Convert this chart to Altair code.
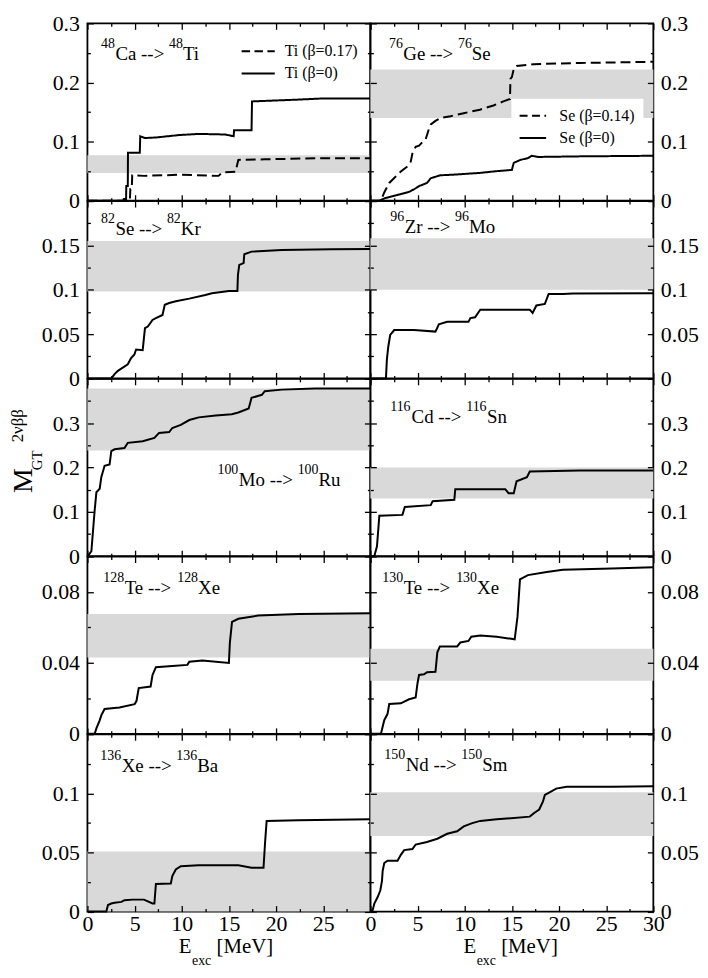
import altair as alt
import pandas as pd

FONT = "Liberation Serif"
W, H = 285, 178.6

# ---------------- data ----------------
# 48Ca -> 48Ti
CA_E_DEF = [0, 4.5, 4.55, 4.7, 4.75, 6.0, 10.0, 13.9, 14.3, 15.7, 16.0, 18.8, 25, 30]
CA_M_DEF = [0, 0, 0.02, 0.02, 0.043, 0.042, 0.044, 0.042, 0.048, 0.049, 0.069, 0.070, 0.072, 0.072]
CA_E_SPH = [0, 3.8, 3.85, 4.1, 4.12, 4.28, 4.3, 5.55, 5.6, 6.1, 7.3, 9.7, 11.8, 14.6, 15.5, 15.55, 17.4, 17.45, 22.3, 25, 30]
CA_M_SPH = [0, 0, 0.003, 0.003, 0.025, 0.025, 0.081, 0.081, 0.109, 0.106, 0.107, 0.111, 0.113, 0.112, 0.109, 0.119, 0.119, 0.168, 0.171, 0.173, 0.173]
# 76Ge -> 76Se
GE_E_DEF = [0, 1.1, 1.47, 2.0, 2.53, 3.23, 3.93, 4.28, 4.46, 4.8, 5.16, 5.5, 5.86, 6.2, 6.4, 6.9, 7.44, 8.5, 9.9, 11.6, 13.05, 14.1, 14.8, 14.85, 15.0, 15.2, 15.5, 17.3, 22.2, 30]
GE_M_DEF = [0, 0, 0.014, 0.030, 0.0385, 0.0495, 0.058, 0.066, 0.080, 0.091, 0.093, 0.099, 0.104, 0.121, 0.129, 0.135, 0.140, 0.143, 0.148, 0.154, 0.161, 0.168, 0.172, 0.206, 0.209, 0.223, 0.228, 0.231, 0.233, 0.235]
GE_E_SPH = [0, 0.95, 1.5, 2.2, 3.2, 4.1, 4.6, 5.2, 6.0, 6.4, 7.4, 8.8, 11.6, 13.4, 15.0, 15.2, 15.9, 16.7, 17.1, 17.8, 22.2, 30]
GE_M_SPH = [0, 0, 0.004, 0.007, 0.011, 0.015, 0.019, 0.025, 0.030, 0.038, 0.043, 0.044, 0.047, 0.050, 0.052, 0.064, 0.069, 0.072, 0.076, 0.074, 0.075, 0.076]
# 82Se -> 82Kr
SE_E = [0, 2.53, 2.88, 3.23, 3.75, 4.28, 4.63, 4.98, 5.16, 5.86, 6.1, 6.4, 6.9, 7.26, 7.96, 8.2, 8.67, 9.37, 10.8, 12.5, 13.2, 15.0, 15.9, 15.96, 16.1, 16.56, 16.63, 17.4, 20.6, 25.9, 30]
SE_M = [0, 0, 0.0048, 0.0085, 0.0122, 0.016, 0.023, 0.027, 0.0326, 0.0319, 0.0567, 0.0585, 0.066, 0.068, 0.0715, 0.083, 0.085, 0.087, 0.090, 0.094, 0.096, 0.0985, 0.0985, 0.117, 0.128, 0.130, 0.140, 0.143, 0.1448, 0.1456, 0.146]
# 96Zr -> 96Mo
ZR_E = [0, 1.65, 1.75, 1.9, 2.1, 2.53, 4.63, 6.9, 7.26, 8.14, 10.4, 10.6, 11.1, 11.65, 16.9, 17.2, 17.6, 18.5, 18.9, 20.4, 21.5, 30]
ZR_M = [0, 0, 0.0214, 0.036, 0.049, 0.0546, 0.0546, 0.0528, 0.061, 0.0638, 0.0638, 0.068, 0.069, 0.0775, 0.0775, 0.0738, 0.0823, 0.084, 0.0952, 0.0952, 0.0959, 0.096]
# 100Mo -> 100Ru
MO_E = [0, 0.18, 0.42, 0.6, 0.77, 0.95, 1.3, 1.47, 1.82, 2.35, 2.53, 2.88, 3.93, 4.28, 5.86, 7.1, 7.6, 8.67, 9.0, 9.9, 10.8, 11.8, 13.6, 15.3, 16.0, 17.1, 17.4, 18.5, 18.8, 20.6, 24.1, 30]
MO_M = [0, 0.004, 0.011, 0.059, 0.104, 0.144, 0.152, 0.178, 0.204, 0.207, 0.237, 0.241, 0.244, 0.2556, 0.259, 0.2667, 0.278, 0.28, 0.289, 0.296, 0.307, 0.313, 0.317, 0.32, 0.324, 0.333, 0.357, 0.364, 0.372, 0.3756, 0.378, 0.378]
# 116Cd -> 116Sn
CD_E = [0, 0.42, 0.7, 0.95, 3.4, 3.65, 6.4, 6.6, 8.9, 9.0, 14.3, 14.65, 15.2, 15.5, 16.6, 16.9, 22.2, 30]
CD_M = [0, 0, 0.022, 0.091, 0.093, 0.111, 0.115, 0.124, 0.127, 0.151, 0.151, 0.142, 0.142, 0.169, 0.178, 0.191, 0.193, 0.193]
# 128Te -> 128Xe
TE128_E = [0, 0.77, 0.95, 1.3, 1.47, 1.82, 3.4, 5.0, 5.2, 5.44, 6.7, 6.9, 7.26, 9.0, 10.6, 10.8, 12.2, 15.0, 15.1, 15.33, 16.0, 18.1, 22.4, 30]
TE128_M = [0, 0, 0.0031, 0.0076, 0.0104, 0.014, 0.0149, 0.0167, 0.0185, 0.0258, 0.0267, 0.0331, 0.0376, 0.0382, 0.0389, 0.0407, 0.0413, 0.040, 0.0513, 0.0631, 0.0649, 0.0667, 0.0676, 0.068]
# 130Te -> 130Xe
TE130_E = [0, 1.12, 1.3, 1.47, 1.82, 2.0, 3.23, 4.1, 4.8, 5.0, 5.16, 5.68, 6.0, 6.9, 7.1, 7.37, 9.2, 9.54, 10.4, 10.7, 11.65, 13.4, 15.3, 15.6, 15.86, 16.7, 18.7, 20.4, 25.6, 30]
TE130_M = [0, 0, 0.004, 0.0077, 0.0113, 0.0168, 0.0172, 0.0195, 0.0205, 0.0287, 0.0332, 0.0336, 0.0347, 0.035, 0.046, 0.0493, 0.0493, 0.0515, 0.0524, 0.0548, 0.0555, 0.0548, 0.0533, 0.0661, 0.0871, 0.0895, 0.0913, 0.0926, 0.0932, 0.0939]
# 136Xe -> 136Ba
XE_E = [0, 2.0, 2.18, 2.53, 2.88, 3.6, 3.93, 4.8, 6.0, 6.9, 7.1, 7.26, 8.84, 9.0, 9.37, 9.9, 11.8, 16.0, 17.4, 18.67, 18.84, 19.0, 22.35, 30]
XE_M = [0, 0, 0.0055, 0.0068, 0.0074, 0.0082, 0.0096, 0.0101, 0.0101, 0.0068, 0.0068, 0.0233, 0.0238, 0.0301, 0.0356, 0.0384, 0.0392, 0.0392, 0.037, 0.037, 0.0589, 0.0767, 0.0773, 0.078]
# 150Nd -> 150Sm
ND_E = [0, 0.25, 0.42, 0.77, 1.05, 1.23, 1.3, 1.47, 1.82, 2.88, 3.23, 3.58, 4.46, 4.8, 6.0, 7.1, 8.14, 9.2, 9.9, 10.8, 11.65, 13.4, 16.9, 17.4, 17.9, 18.3, 18.5, 19.0, 19.7, 20.8, 25.7, 30]
ND_M = [0, 0.0014, 0.0068, 0.0123, 0.0178, 0.026, 0.0342, 0.0411, 0.043, 0.043, 0.048, 0.052, 0.0529, 0.0567, 0.0589, 0.0616, 0.0658, 0.0679, 0.072, 0.0748, 0.0767, 0.078, 0.0803, 0.0836, 0.0863, 0.0932, 0.0986, 0.1008, 0.104, 0.1055, 0.1055, 0.106]

# experimental bands (low, high), panel order left-right, top-bottom
BAND_LO = [0.047, 0.140, 0.098, 0.100, 0.238, 0.130, 0.043, 0.030, 0.0, 0.064]
BAND_HI = [0.077, 0.222, 0.155, 0.158, 0.378, 0.200, 0.0676, 0.048, 0.0507, 0.101]

# panel titles: (mass, parent, mass, daughter)
TITLES = [("48", "Ca --> ", "48", "Ti"), ("76", "Ge --> ", "76", "Se"),
          ("82", "Se --> ", "82", "Kr"), ("96", "Zr --> ", "96", "Mo"),
          ("100", "Mo --> ", "100", "Ru"), ("116", "Cd --> ", "116", "Sn"),
          ("128", "Te --> ", "128", "Xe"), ("130", "Te --> ", "130", "Xe"),
          ("136", "Xe --> ", "136", "Ba"), ("150", "Nd --> ", "150", "Sm")]
LEG_TI = ["Ti (β=0.17)", "Ti (β=0)"]
LEG_SE = ["Se (β=0.14)", "Se (β=0)"]

# axes per row
Y_MAX = [0.3, 0.2, 0.4, 0.1, 0.15]
Y_MAJOR = [[0, 0.1, 0.2, 0.3], [0, 0.05, 0.1, 0.15], [0, 0.1, 0.2, 0.3], [0, 0.04, 0.08], [0, 0.05, 0.1]]
Y_MINOR = [[0.05, 0.15, 0.25], [0.025, 0.075, 0.125, 0.175], [0.05, 0.15, 0.25, 0.35], [0.02, 0.06], [0.025, 0.075, 0.125]]
X_MAJOR_L = [0, 5, 10, 15, 20, 25]
X_MAJOR_R = [0, 5, 10, 15, 20, 25, 30]
X_MINOR = [2.5, 7.5, 12.5, 17.5, 22.5, 27.5]

# ---------------- helpers ----------------
TW = {' ': 250, '-': 333, '>': 564, '[': 333, ']': 333, 'a': 444, 'b': 500, 'c': 444, 'd': 500,
      'e': 444, 'i': 278, 'm': 778, 'n': 500, 'o': 500, 'r': 333, 'u': 500, 'x': 500,
      'B': 667, 'C': 667, 'E': 611, 'G': 722, 'K': 722, 'M': 889, 'N': 722, 'R': 667,
      'S': 556, 'T': 611, 'V': 722, 'X': 722, 'Z': 611}


def tw(s, size):
    return sum(TW.get(c, 500) for c in s) * size / 1000.0


def txt(s, x, y, size, angle=0, baseline="alphabetic"):
    return alt.Chart(pd.DataFrame({"t": [s]})).mark_text(
        font=FONT, fontSize=size, align="left", baseline=baseline, color="black", angle=angle
    ).encode(x=alt.value(x), y=alt.value(y), text="t:N")


def ax(orient, values, size, show=False):
    """Inward ticks: axis moved inside by its tick length, ticks point back to the frame."""
    kw = dict(orient=orient, values=list(values), title=None, grid=False, domain=False,
              ticks=True, tickSize=size, offset=-size, tickColor="black", tickWidth=1.3,
              labels=show, zindex=1)
    if show:
        pad = {"left": 8, "right": 7, "bottom": 2, "top": 2}[orient]
        kw.update(format="~g", labelFont=FONT, labelFontSize=22, labelColor="black",
                  labelPadding=pad, labelOverlap=False, labelFlush=False)
    return alt.Axis(**kw)


def lines_df(pairs):
    frames = [pd.DataFrame({"E": e, "M": m, "series": name}) for e, m, name in pairs]
    return pd.concat(frames, ignore_index=True)


TITLE_POS = [(13.7, 37), (18.7, 37), (13.7, 34), (20, 32), (131, 108),
             (20, 45), (16, 38), (12, 38), (13, 38), (14, 37)]


def panel(idx, pairs, dash_domain=None, dash_range=None, under=(), over=()):
    row, col = divmod(idx, 2)
    xs = alt.Scale(domain=[0, 30], nice=False, zero=False)
    ys = alt.Scale(domain=[0, Y_MAX[row]], nice=False, zero=False)
    df = lines_df(pairs)
    side = "left" if col == 0 else "right"
    other = "right" if col == 0 else "left"
    xmaj = X_MAJOR_L if col == 0 else X_MAJOR_R

    band = alt.Chart(pd.DataFrame({"lo": [BAND_LO[idx]], "hi": [BAND_HI[idx]]})).mark_rect(
        color="#d9d9d9").encode(
        x=alt.value(0), x2=alt.value(W),
        y=alt.Y("lo:Q", scale=ys, axis=None), y2="hi:Q")

    enc = dict(
        x=alt.X("E:Q", scale=xs, axis=ax("bottom", xmaj, 6, row == 4)),
        y=alt.Y("M:Q", scale=ys, axis=ax(side, Y_MAJOR[row], 6, True)),
        detail="series:N")
    if dash_domain:
        enc["strokeDash"] = alt.StrokeDash("series:N", scale=alt.Scale(domain=dash_domain, range=dash_range),
                                           legend=None)
    main = alt.Chart(df).mark_line(color="black", strokeWidth=2).encode(**enc)

    def ghost(xo, xv, xsz, yo, yv, ysz):
        return alt.Chart(df).mark_line(strokeOpacity=0).encode(
            x=alt.X("E:Q", scale=xs, axis=ax(xo, xv, xsz)),
            y=alt.Y("M:Q", scale=ys, axis=ax(yo, yv, ysz)),
            detail="series:N")

    g1 = ghost("bottom", X_MINOR, 3, side, Y_MINOR[row], 3)
    g2 = ghost("top", X_MAJOR_R, 6, other, Y_MAJOR[row], 6)
    g3 = ghost("top", X_MINOR, 3, other, Y_MINOR[row], 3)

    a, p, b, d = TITLES[idx]
    x0, yb = TITLE_POS[idx]
    s_sup, s_main = 14, 19
    x1 = x0 + tw(a, s_sup) + 0.5
    x2 = x1 + tw(p, s_main)
    x3 = x2 + tw(b, s_sup)
    texts = [txt(a, x0, yb - 12.4, s_sup), txt(p, x1, yb, s_main),
             txt(b, x2, yb - 12.4, s_sup), txt(d, x3, yb, s_main)]

    layers = [band] + list(under) + [main, g1, g2, g3] + texts + list(over)
    return alt.layer(*layers).resolve_axis(x="independent", y="independent").properties(width=W, height=H)


def legend(labels, x_sym, x_lab, y_rows, length, dash):
    out = []
    for lab, y, dsh in zip(labels, y_rows, [dash, [1, 0]]):
        out.append(alt.Chart(pd.DataFrame({"t": [lab]})).mark_rule(
            color="black", strokeWidth=2, strokeDash=dsh).encode(
            x=alt.value(x_sym), x2=alt.value(x_sym + length), y=alt.value(y)))
        out.append(txt(lab, x_lab, y, 16, baseline="middle"))
    return out


box = alt.Chart(pd.DataFrame({"t": ["box"]})).mark_rect(color="white").encode(
    x=alt.value(142), x2=alt.value(275), y=alt.value(76), y2=alt.value(134))

p1 = panel(0, [(CA_E_DEF, CA_M_DEF, LEG_TI[0]), (CA_E_SPH, CA_M_SPH, LEG_TI[1])],
           LEG_TI, [[10, 5], [1, 0]],
           over=legend(LEG_TI, 155.3, 198.7, [28, 50.5], 33.4, [8.5, 4.5]))
p2 = panel(1, [(GE_E_DEF, GE_M_DEF, LEG_SE[0]), (GE_E_SPH, GE_M_SPH, LEG_SE[1])],
           LEG_SE, [[8, 5], [1, 0]], under=[box],
           over=legend(LEG_SE, 150.3, 190.3, [93, 115.5], 26.7, [8, 4.5]))
p3 = panel(2, [(SE_E, SE_M, "a")])
p4 = panel(3, [(ZR_E, ZR_M, "a")])

ytitle = [txt("M", -56, 115, 28, angle=270),
          txt("GT", -46, 92, 15, angle=270),
          txt("2νββ", -65, 64, 17, angle=270)]
p5 = panel(4, [(MO_E, MO_M, "a")], over=ytitle)
p6 = panel(5, [(CD_E, CD_M, "a")])
p7 = panel(6, [(TE128_E, TE128_M, "a")])
p8 = panel(7, [(TE130_E, TE130_M, "a")])


def xtitle(x0):
    xe = x0 + tw("E", 21) + 0.5
    xm = xe + tw("exc", 14) + tw(" ", 21)
    return [txt("E", x0, H + 42, 21),
            txt("exc", xe, H + 54, 14),
            txt("[MeV]", xm, H + 42, 21)]


p9 = panel(8, [(XE_E, XE_M, "a")], over=xtitle(92))
p10 = panel(9, [(ND_E, ND_M, "a")], over=xtitle(93.7))

chart = alt.concat(p1, p2, p3, p4, p5, p6, p7, p8, p9, p10, columns=2, spacing=0, bounds="flush").properties(
    padding={"top": 0, "left": 0, "right": 0, "bottom": 0}, background="white"
).configure_view(stroke="black", strokeWidth=1.8)

chart.save("out.html", embed_options={"renderer": "svg", "actions": False})
